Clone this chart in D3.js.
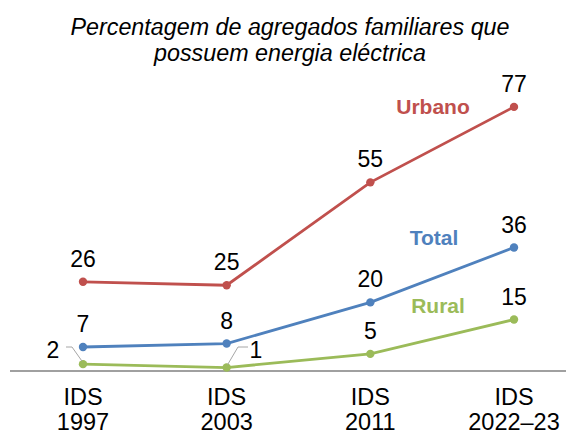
<!DOCTYPE html>
<html><head><meta charset="utf-8">
<script src="https://cdn.jsdelivr.net/npm/d3@7"></script>
<style>body{margin:0;background:#fff}svg{display:block}text{font-family:"Liberation Sans",Arial,sans-serif}</style>
</head><body>
<svg id="c" width="574" height="434"></svg>
<script>
const categories = ["IDS\n1997", "IDS\n2003", "IDS\n2011", "IDS\n2022–23"];
const urbano = [26, 25, 55, 77];
const total = [7, 8, 20, 36];
const rural = [2, 1, 5, 15];
const seriesNames = ["Urbano", "Total", "Rural"];
const titleLines = ["Percentagem de agregados familiares que", "possuem energia eléctrica"];

const svg = d3.select("#c");
const x = d3.scalePoint().domain(categories).range([83, 514]);
const y = d3.scaleLinear().domain([0, 100]).range([371, 28]);

svg.selectAll("text.title").data(titleLines).join("text")
  .attr("x", 290).attr("y", (d, i) => 35 + i * 26)
  .attr("text-anchor", "middle").attr("font-size", 23.3).attr("font-style", "italic")
  .attr("fill", "#000").text(d => d);

// axis line
svg.append("line").attr("x1", 10).attr("x2", 566).attr("y1", y(0)).attr("y2", y(0))
  .attr("stroke", "#808080").attr("stroke-width", 1.3);

// category labels
categories.forEach(c => {
  const t = svg.append("text").attr("text-anchor", "middle").attr("font-size", 23.5).attr("fill", "#000");
  c.split("\n").forEach((l, i) => t.append("tspan").attr("x", x(c)).attr("y", 405 + i * 25).text(l));
});

const series = [
  {name: "Urbano", vals: urbano, color: "#c0504d", lx: 433, ly: 114},
  {name: "Total", vals: total, color: "#4f81bd", lx: 434, ly: 245},
  {name: "Rural", vals: rural, color: "#9bbb59", lx: 438, ly: 313}
];
const line = d3.line().x((d, i) => x(categories[i])).y(d => y(d));

series.forEach(s => {
  svg.append("path").attr("d", line(s.vals)).attr("fill", "none")
    .attr("stroke", s.color).attr("stroke-width", 2.8);
  svg.selectAll(null).data(s.vals).join("circle")
    .attr("cx", (d, i) => x(categories[i])).attr("cy", d => y(d)).attr("r", 4.2)
    .attr("fill", s.color);
  svg.append("text").attr("x", s.lx).attr("y", s.ly).attr("text-anchor", "middle")
    .attr("font-size", 21).attr("font-weight", "bold").attr("fill", s.color).text(s.name);
});

// value labels above points
[urbano, total].forEach(vals => {
  svg.selectAll(null).data(vals).join("text")
    .attr("x", (d, i) => x(categories[i])).attr("y", d => y(d) - 15)
    .attr("text-anchor", "middle").attr("font-size", 23).attr("fill", "#000").text(d => d);
});
rural.forEach((d, i) => {
  if (i < 2) return;
  svg.append("text").attr("x", x(categories[i])).attr("y", y(d) - 15)
    .attr("text-anchor", "middle").attr("font-size", 23).attr("fill", "#000").text(d);
});

// offset labels with leader lines for first two rural points
const p0 = [x(categories[0]), y(rural[0])];
svg.append("polyline").attr("points", [[66, 347], [72, 347], [p0[0] - 1, p0[1] - 3]].join(" "))
  .attr("fill", "none").attr("stroke", "#a6a6a6").attr("stroke-width", 1);
svg.append("text").attr("x", 53).attr("y", 358).attr("text-anchor", "middle")
  .attr("font-size", 23).attr("fill", "#000").text(rural[0]);
const p1 = [x(categories[1]), y(rural[1])];
svg.append("polyline").attr("points", [[p1[0] + 1, p1[1] - 3], [238, 347], [248, 347]].join(" "))
  .attr("fill", "none").attr("stroke", "#a6a6a6").attr("stroke-width", 1);
svg.append("text").attr("x", 256).attr("y", 358).attr("text-anchor", "middle")
  .attr("font-size", 23).attr("fill", "#000").text(rural[1]);
</script>
</body></html>
